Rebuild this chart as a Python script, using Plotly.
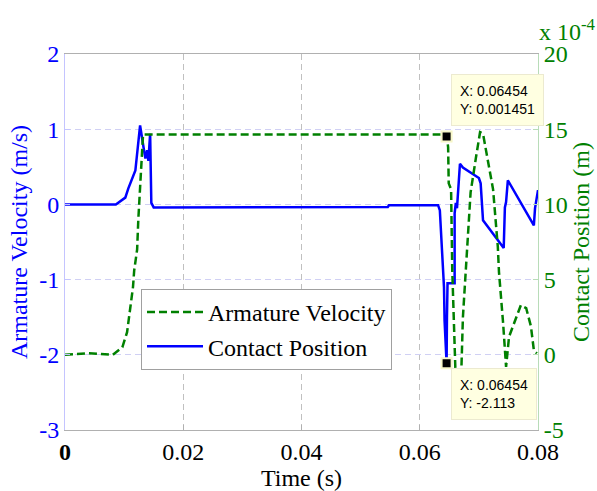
import plotly.graph_objects as go

# Blue trace (left axis, m/s) - legend label "Contact Position"
blue_t = [0, 0.0086, 0.0102, 0.0107, 0.0119, 0.0127, 0.0133, 0.0136, 0.0139, 0.0141, 0.0144,
          0.0146, 0.0150, 0.0160, 0.0300, 0.0450, 0.0546, 0.0548, 0.0631,
          0.0634, 0.0637, 0.0640, 0.0641, 0.0642, 0.0644, 0.06454, 0.0646, 0.0647, 0.0659,
          0.0659, 0.0661, 0.0663, 0.0668, 0.0673, 0.0700, 0.0703, 0.0707, 0.0742,
          0.0744, 0.0746, 0.0749, 0.0793, 0.0795, 0.0797, 0.0800]
blue_v = [0, 0, 0.09, 0.21, 0.45, 1.05, 0.75, 0.61, 0.72, 0.58, 0.94,
          0.02, -0.04, -0.04, -0.035, -0.03, -0.035, -0.01, -0.01,
          -0.08, -0.6, -1.0, -1.1, -1.55, -1.95, -2.113, -1.5, -1.05, -1.05,
          -0.12, 0.02, -0.05, 0.54, 0.49, 0.35, 0.28, -0.21, -0.58,
          -0.04, 0.03, 0.32, -0.28, -0.05, 0.05, 0.19]

# Green trace (right axis, m) - legend label "Armature Velocity"
green_t = [0, 0.0040, 0.0081, 0.0097, 0.0105, 0.0110, 0.0115, 0.0117, 0.0122, 0.0124, 0.0127,
           0.0130, 0.0132, 0.06454, 0.0648, 0.0649, 0.0653, 0.0655, 0.0658, 0.0661, 0.0663,
           0.0670, 0.0673, 0.0678, 0.0686, 0.0695, 0.0702, 0.0707, 0.0712, 0.0724, 0.0732,
           0.0734, 0.0741, 0.0746, 0.0751, 0.0763, 0.0771, 0.0780, 0.0788, 0.0793, 0.0798]
green_v = [0, 0.00001, 0, 0.00005, 0.00015, 0.00030, 0.00045, 0.00056, 0.00070, 0.00090, 0.00115,
           0.00138, 0.001465, 0.001465, 0.00138, 0.00114, 0.00110, 0.00056, 0.00019, -0.00019, -0.00025,
           -0.00015, 0.00025, 0.00055, 0.00108, 0.00131, 0.00148, 0.00147, 0.00136, 0.00110, 0.00072,
           0.00055, 0.00021, -0.00008, 0.00012, 0.00025, 0.00033, 0.00031, 0.00019, 0.00003, 0.00001]

tip_t = 0.06454
tip_blue = -2.113
tip_green = 0.001451

x_ticks = [0, 0.02, 0.04, 0.06, 0.08]
x_labels = ['<b>0</b>', '0.02', '0.04', '0.06', '0.08']
y1_ticks = [-3, -2, -1, 0, 1, 2]
y1_labels = ['-3', '-2', '-1', '0', '1', '2']
y2_ticks = [-5e-4, 0, 5e-4, 10e-4, 15e-4, 20e-4]
y2_labels = ['-5', '0', '5', '10', '15', '20']

BLUE = '#0000ff'
GREEN = '#008000'
SERIF = 'Liberation Serif'
FS = 24

fig = go.Figure()
fig.add_trace(go.Scatter(x=green_t, y=green_v, yaxis='y2', mode='lines', name='Armature Velocity',
                         line=dict(color=GREEN, width=2.5, dash='8px,4px')))
fig.add_trace(go.Scatter(x=blue_t, y=blue_v, mode='lines', name='Contact Position',
                         line=dict(color=BLUE, width=2.5)))
fig.add_trace(go.Scatter(x=[tip_t], y=[tip_blue], mode='markers', showlegend=False,
                         marker=dict(symbol='square', size=10, color='black',
                                     line=dict(color='#f6f6c8', width=2))))
fig.add_trace(go.Scatter(x=[tip_t], y=[tip_green], yaxis='y2', mode='markers', showlegend=False,
                         marker=dict(symbol='square', size=10, color='black',
                                     line=dict(color='#f6f6c8', width=2))))

fig.update_layout(
    width=597, height=491,
    margin=dict(l=65, r=59, t=54, b=61),
    paper_bgcolor='white', plot_bgcolor='white',
    font=dict(family=SERIF, size=FS, color='black'),
    showlegend=True,
    legend=dict(x=0.1607, y=0.375, xanchor='left', yanchor='top',
                bgcolor='white', bordercolor='#a0a0a0', borderwidth=1,
                font=dict(family=SERIF, size=FS, color='black'),
                itemwidth=56, tracegroupgap=0),
    xaxis=dict(range=[0, 0.08], tickvals=x_ticks, ticktext=x_labels, automargin=False,
               showline=True, linecolor='#b0b0b0', linewidth=1, mirror=True,
               showgrid=True, gridcolor='#c0c0c0', griddash='6px,4px', gridwidth=1,
               ticks='inside', ticklen=5, tickcolor='#b0b0b0',
               zeroline=False,
               tickfont=dict(family=SERIF, size=FS, color='black'),
               title=dict(text='Time (s)', font=dict(family=SERIF, size=FS, color='black'), standoff=2)),
    yaxis=dict(range=[-3, 2], tickvals=y1_ticks, ticktext=y1_labels, automargin=False,
               showline=True, linecolor='#c4c4ff', linewidth=1,
               showgrid=True, gridcolor='#d0d0f4', griddash='6px,4px', gridwidth=1,
               ticks='inside', ticklen=5, tickcolor='#c4c4ff',
               zeroline=False,
               tickfont=dict(family=SERIF, size=FS, color=BLUE),
               title=dict(text='Armature Velocity (m/s)', font=dict(family=SERIF, size=FS, color=BLUE), standoff=4)),
    yaxis2=dict(range=[-5e-4, 20e-4], tickvals=y2_ticks, ticktext=y2_labels, automargin=False,
                overlaying='y', side='right',
                showline=True, linecolor='#b8dcb8', linewidth=1,
                showgrid=False, zeroline=False,
                ticks='inside', ticklen=5, tickcolor='#b8dcb8',
                tickfont=dict(family=SERIF, size=FS, color=GREEN),
                title=dict(text='Contact Position (m)', font=dict(family=SERIF, size=FS, color=GREEN), standoff=2)),
)

fig.add_annotation(xref='paper', yref='paper', x=1.0, y=1.02, xanchor='left', yanchor='bottom',
                   text='x 10<sup>-4</sup>', showarrow=False, borderpad=0,
                   font=dict(family=SERIF, size=FS, color=GREEN))

tip_font = dict(family='Liberation Sans', size=14, color='black')
fig.add_annotation(xref='paper', yref='paper', x=0.9144, y=0.8777, xanchor='center', yanchor='middle',
                   text='X: 0.06454<br>Y: 0.001451', showarrow=False, align='left',
                   bgcolor='#ffffe1', bordercolor='#ecead0', borderwidth=1, borderpad=8, font=tip_font)
fig.add_annotation(xref='paper', yref='paper', x=0.907, y=0.0957, xanchor='center', yanchor='middle',
                   text='X: 0.06454<br>Y: -2.113', showarrow=False, align='left',
                   bgcolor='#ffffe1', bordercolor='#ecead0', borderwidth=1, borderpad=8, font=tip_font)

fig.write_html('out.html', config={'displayModeBar': False},
               post_script="document.body.style.margin='0px';")
